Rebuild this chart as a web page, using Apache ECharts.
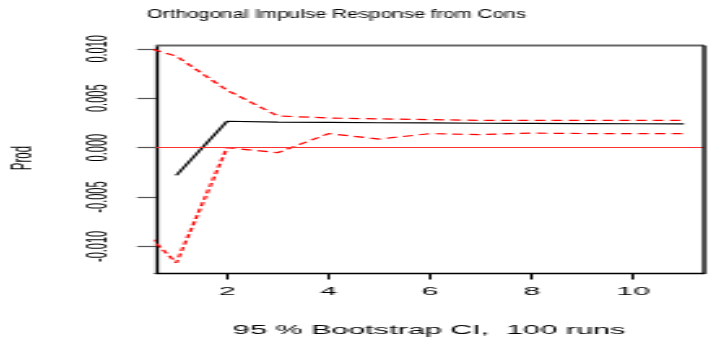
<!DOCTYPE html>
<html><head><meta charset="utf-8">
<script src="https://cdn.jsdelivr.net/npm/echarts@6/dist/echarts.min.js"></script>
<style>
html,body{margin:0;padding:0;background:#fff;overflow:hidden}
#wrap{width:712px;height:339px;overflow:hidden;position:relative}
#c{width:274px;height:339px;transform:scaleX(2.5985);transform-origin:0 0}
</style>
</head><body><div id="wrap"><div id="c"></div></div>
<script>
// ---- data ----
const horizons = [0, 1, 2, 3, 4, 5, 6, 7, 8, 9, 10, 11];
const irfValues = [null, -0.00281, 0.00267, 0.00258, 0.00255, 0.00252, 0.00250, 0.00247, 0.00245, 0.00243, 0.00242, 0.00240];
const upperCI = [0.01074, 0.00926, 0.00581, 0.00321, 0.00300, 0.00291, 0.00284, 0.00276, 0.00276, 0.00276, 0.00276, 0.00275];
const lowerCI = [-0.00667, -0.01166, 0.00000, -0.00051, 0.00142, 0.00087, 0.00142, 0.00132, 0.00147, 0.00143, 0.00142, 0.00142];
const xTickValues = [2, 4, 6, 8, 10];
const yTickValues = [-0.010, -0.005, 0.000, 0.005, 0.010];
const titleText = 'Orthogonal Impulse Response from Cons';
const yAxisTitle = 'Prod';
const xAxisTitle = '95 % Bootstrap CI,  100 runs';

// ---- chart ----
const W = 274, H = 339;
const S = 712 / W; // horizontal stretch applied by CSS
const FONT = '"Liberation Sans", Arial, Helvetica, sans-serif';
const pair = (xs, ys) => xs.map((x, i) => [x, ys[i]]).filter(p => p[1] !== null);
const X_MIN = 0.6, X_MAX = 11.4, Y_MIN = -0.01274, Y_MAX = 0.01034;
const G_LEFT = 156 / S, G_RIGHT = 3, G_TOP = 45.5, G_BOTTOM = H - 273.5;

const chart = echarts.init(document.getElementById('c'), null, {renderer: 'canvas', width: W, height: H});
chart.setOption({
  animation: false,
  backgroundColor: '#fff',
  grid: {
    left: G_LEFT, right: G_RIGHT, top: G_TOP, bottom: G_BOTTOM,
    show: false, containLabel: false, outerBoundsMode: 'none'
  },
  xAxis: [{
    type: 'value', min: X_MIN, max: X_MAX, position: 'bottom',
    axisLine: {show: true, onZero: false, lineStyle: {color: '#000', width: 1.3}},
    axisTick: {show: true, length: 6, customValues: xTickValues, lineStyle: {color: '#000', width: 1}},
    axisLabel: {customValues: xTickValues, margin: 12, fontSize: 11.5, fontFamily: FONT, color: '#000'},
    splitLine: {show: false}
  }],
  yAxis: [{
    type: 'value', min: Y_MIN, max: Y_MAX, position: 'left',
    axisLine: {show: true, onZero: false, lineStyle: {color: '#000', width: 1.2}},
    axisTick: {show: true, length: 19 / S, customValues: yTickValues, lineStyle: {color: '#555', width: 1.2}},
    axisLabel: {customValues: yTickValues, rotate: 90, margin: 17, fontSize: 11, fontFamily: FONT, color: '#000',
      formatter: v => v.toFixed(3)},
    splitLine: {show: false}
  }],
  series: [
    {
      type: 'line', data: pair(horizons, irfValues), symbol: 'none', clip: true,
      lineStyle: {color: '#000', width: 1.2}
    },
    {
      type: 'line', data: pair(horizons, upperCI), symbol: 'none', clip: true,
      lineStyle: {color: '#ff0000', width: 1.2, type: [4, 2.5]},
      markLine: {
        silent: true, symbol: 'none', label: {show: false},
        lineStyle: {color: '#ff3030', width: 1.2, type: 'solid'},
        data: [{yAxis: 0}]
      }
    },
    {
      type: 'line', data: pair(horizons, lowerCI), symbol: 'none', clip: true,
      lineStyle: {color: '#ff0000', width: 1.2, type: [4, 2.5]}
    }
  ],
  graphic: {elements: [
    {type: 'line', silent: true, z: 100,
      shape: {x1: G_LEFT, y1: G_TOP, x2: W - G_RIGHT, y2: G_TOP},
      style: {stroke: '#666', lineWidth: 1.8}},
    {type: 'line', silent: true, z: 100,
      shape: {x1: W - G_RIGHT, y1: G_TOP, x2: W - G_RIGHT, y2: H - G_BOTTOM},
      style: {stroke: '#000', lineWidth: 1.4}},
    {type: 'text', x: 146.7 / S, y: 14.5, scaleX: 0.61, silent: true,
      style: {text: titleText, font: '13px ' + FONT, fill: '#000', align: 'left', verticalAlign: 'middle', textAlign: 'left', textVerticalAlign: 'middle'}},
    {type: 'text', x: 24 / S, y: 158, rotation: Math.PI / 2, silent: true,
      style: {text: yAxisTitle, font: '11.5px ' + FONT, fill: '#000', align: 'center', verticalAlign: 'middle', textAlign: 'center', textVerticalAlign: 'middle'}},
    {type: 'text', x: 429 / S, y: 331, scaleX: 0.98, silent: true,
      style: {text: xAxisTitle, font: '12px ' + FONT, fill: '#000', align: 'center', verticalAlign: 'middle', textAlign: 'center', textVerticalAlign: 'middle'}}
  ]}
});
</script>
</body></html>
